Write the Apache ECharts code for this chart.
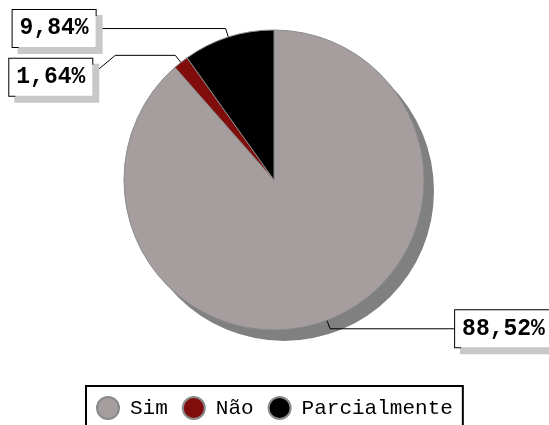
<!DOCTYPE html>
<html>
<head>
<meta charset="utf-8">
<script src="https://cdn.jsdelivr.net/npm/echarts@6/dist/echarts.min.js"></script>
<style>
    html, body { margin: 0; padding: 0; background: #fff; }
    #chart { width: 549px; height: 425px; }
</style>
</head>
<body>
<div id="chart"></div>
<script>
// categorias e percentagens
const categorias = ['Sim', 'Não', 'Parcialmente']
const valores = [88.52, 1.64, 9.84]
const cores = ['#a69e9e', '#800c0c', '#000000']
// comprimento do traço horizontal de cada rótulo
const tracos = [125, 60, 130]

const chart = echarts.init(document.getElementById('chart'))

const dados = categorias.map((nome, i) => {
    return {
        name: nome,
        value: valores[i],
        itemStyle: { color: cores[i] },
        labelLine: { length2: tracos[i] }
    }
})

// mesma pizza em cinzento, deslocada, a fazer de sombra
const sombra = categorias.map((nome, i) => {
    return { name: nome, value: valores[i] }
})

const option = {
    animation: false,
    legend: {
        data: categorias,
        left: 86,
        top: 386,
        icon: 'circle',
        itemWidth: 22,
        itemHeight: 22,
        itemGap: 14,
        padding: [10, 10, 10, 10],
        borderColor: '#000',
        borderWidth: 2,
        textStyle: {
            fontFamily: 'Liberation Mono',
            fontSize: 21,
            color: '#000',
            padding: [0, 0, 0, 6]
        }
    },
    series: [
        {
            type: 'pie',
            z: 3,
            center: [274, 180],
            radius: 150,
            startAngle: 90,
            clockwise: true,
            avoidLabelOverlap: false,
            data: dados,
            itemStyle: {
                borderColor: '#8a8a8a',
                borderWidth: 1
            },
            emphasis: { disabled: true },
            label: {
                show: true,
                position: 'outside',
                distanceToLabelLine: 0,
                formatter: p => p.value.toFixed(2).replace('.', ',') + '%',
                fontFamily: 'Liberation Mono',
                fontWeight: 'bold',
                fontSize: 23,
                lineHeight: 23,
                color: '#000',
                backgroundColor: '#fff',
                borderColor: '#000',
                borderWidth: 1,
                padding: [7, 7, 7, 7],
                shadowColor: '#c8c8c8',
                shadowBlur: 0,
                shadowOffsetX: 6,
                shadowOffsetY: 6
            },
            labelLine: {
                show: true,
                length: 9,
                lineStyle: { color: '#000', width: 1 }
            },
            labelLayout: params => {
                if (!params.labelLinePoints) {
                    return {}
                }
                const pts = params.labelLinePoints
                // o traço começa um pouco dentro da fatia
                const dx = pts[0][0] - pts[1][0]
                const dy = pts[0][1] - pts[1][1]
                const d = Math.sqrt(dx * dx + dy * dy) || 1
                const inicio = [pts[0][0] + dx / d * 15, pts[0][1] + dy / d * 15]
                const fim = pts[pts.length - 1]
                if (params.dataIndex !== 1) {
                    return { labelLinePoints: [inicio, pts[1], fim] }
                }
                // o rótulo "Não" desce um pouco para não tapar o de "Parcialmente"
                const r = params.labelRect
                return {
                    x: r.x + r.width - 24,
                    y: r.y + r.height / 2 + 22,
                    labelLinePoints: [
                        inicio,
                        pts[1],
                        fim,
                        [fim[0] - 24, fim[1] + 20]
                    ]
                }
            }
        },
        {
            type: 'pie',
            z: 1,
            silent: true,
            center: [284, 191],
            radius: 150,
            startAngle: 90,
            data: sombra,
            itemStyle: { color: '#808080' },
            label: { show: false },
            labelLine: { show: false },
            emphasis: { disabled: true }
        }
    ]
}

chart.setOption(option)
</script>
</body>
</html>
